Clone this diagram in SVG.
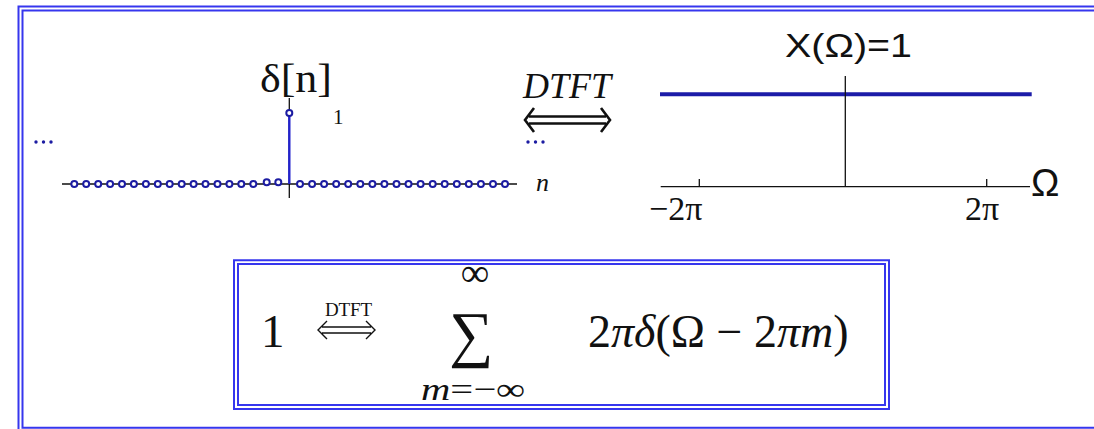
<svg xmlns="http://www.w3.org/2000/svg" width="1094" height="429" viewBox="0 0 1094 429">
<style>
.frame{fill:none;stroke:#3636ee;stroke-width:2}
.ax{stroke:#111;stroke-width:1.3;fill:none}
.pt{fill:#fff;stroke:#1c1ca2;stroke-width:2}
.dot{fill:#1c1ca2}
.serif{font-family:"Liberation Serif","DejaVu Serif",serif;fill:#111}
.sans{font-family:"Liberation Sans",Arial,sans-serif;fill:#111}
</style>
<rect width="1094" height="429" fill="#fff"/>
<g id="frame">
<path class="frame" d="M1096 6.5H18.5V431"/>
<path class="frame" d="M1096 10.5H22.5V427.7H1096"/>
</g>
<g id="delta-plot">
<circle class="dot" cx="36" cy="142" r="1.7"/><circle class="dot" cx="43.5" cy="142" r="1.7"/><circle class="dot" cx="51" cy="142" r="1.7"/>
<circle class="dot" cx="528" cy="142" r="1.7"/><circle class="dot" cx="535.5" cy="142" r="1.7"/><circle class="dot" cx="543" cy="142" r="1.7"/>
<path class="ax" d="M62 184H517M289.3 98V198"/>
<path d="M289.3 113V184" stroke="#2222cc" stroke-width="2.4"/>
<g>
<circle class="pt" cx="74.3" cy="184" r="3"/><circle class="pt" cx="86.2" cy="184" r="3"/><circle class="pt" cx="98.2" cy="184" r="3"/><circle class="pt" cx="110.1" cy="184" r="3"/><circle class="pt" cx="122" cy="184" r="3"/><circle class="pt" cx="133.9" cy="184" r="3"/><circle class="pt" cx="145.9" cy="184" r="3"/><circle class="pt" cx="157.8" cy="184" r="3"/><circle class="pt" cx="169.7" cy="184" r="3"/><circle class="pt" cx="181.7" cy="184" r="3"/><circle class="pt" cx="193.6" cy="184" r="3"/><circle class="pt" cx="205.5" cy="184" r="3"/><circle class="pt" cx="217.5" cy="184" r="3"/><circle class="pt" cx="229.4" cy="184" r="3"/><circle class="pt" cx="241.3" cy="184" r="3"/><circle class="pt" cx="253.3" cy="184" r="3"/>
<circle class="pt" cx="266.7" cy="182.3" r="3"/><circle class="pt" cx="278.3" cy="182.3" r="3"/>
<circle class="pt" cx="289.3" cy="113" r="3"/>
<circle class="pt" cx="300" cy="184" r="3"/><circle class="pt" cx="312.1" cy="184" r="3"/><circle class="pt" cx="324.1" cy="184" r="3"/><circle class="pt" cx="336.2" cy="184" r="3"/><circle class="pt" cx="348.2" cy="184" r="3"/><circle class="pt" cx="360.3" cy="184" r="3"/><circle class="pt" cx="372.4" cy="184" r="3"/><circle class="pt" cx="384.4" cy="184" r="3"/><circle class="pt" cx="396.5" cy="184" r="3"/><circle class="pt" cx="408.5" cy="184" r="3"/><circle class="pt" cx="420.6" cy="184" r="3"/><circle class="pt" cx="432.7" cy="184" r="3"/><circle class="pt" cx="444.7" cy="184" r="3"/><circle class="pt" cx="456.8" cy="184" r="3"/><circle class="pt" cx="468.8" cy="184" r="3"/><circle class="pt" cx="480.9" cy="184" r="3"/><circle class="pt" cx="493" cy="184" r="3"/><circle class="pt" cx="505" cy="184" r="3"/>
</g>
<text class="serif" x="260" y="92" font-size="40" textLength="72" lengthAdjust="spacingAndGlyphs">δ[n]</text>
<text class="serif" x="333" y="124" font-size="21" fill="#333">1</text>
<text class="serif" x="536" y="191" font-size="26" font-style="italic">n</text>
</g>
<g id="dtft-arrow">
<text class="serif" x="523" y="98" font-size="35" font-style="italic" textLength="88" lengthAdjust="spacingAndGlyphs">DTFT</text>
<path d="M529 116.5H606M529 123.5H606M534 108L525 120L534 132M601 108L610 120L601 132" fill="none" stroke="#111" stroke-width="2.6" stroke-linejoin="miter"/>
</g>
<g id="spectrum-plot">
<text class="sans" x="785" y="57" font-size="33" textLength="127" lengthAdjust="spacingAndGlyphs">X(Ω)=1</text>
<path d="M660 94.3H1031.7" stroke="#1c1ca8" stroke-width="4"/>
<path class="ax" d="M845.3 76V186.7M660.7 186.7H1030M699.3 179V186.7M986.7 179V186.7"/>
<text class="sans" x="1031" y="196" font-size="38">Ω</text>
<text class="serif" x="649" y="220" font-size="34">−2π</text>
<text class="serif" x="965" y="220" font-size="34">2π</text>
</g>
<g id="formula">
<path class="frame" d="M234 260.3H889V409H234Z"/>
<path class="frame" d="M238 264H885V405H238Z"/>
<text class="serif" x="261" y="347" font-size="47">1</text>
<text class="serif" x="325" y="316" font-size="19" textLength="47">DTFT</text>
<path d="M322 327H371M322 333H371M327 321L318 330L327 339M366 321L375 330L366 339" fill="none" stroke="#111" stroke-width="1.4"/>
<text class="serif" x="475" y="286" font-size="40" text-anchor="middle">∞</text>
<text class="serif" x="471" y="355" font-size="62" text-anchor="middle">∑</text>
<text class="serif" x="421" y="400" font-size="32" textLength="104" lengthAdjust="spacingAndGlyphs"><tspan font-style="italic">m</tspan>=−∞</text>
<text class="serif" x="588" y="347" font-size="46">2<tspan font-style="italic">πδ</tspan>(Ω − 2<tspan font-style="italic">πm</tspan>)</text>
</g>
</svg>
